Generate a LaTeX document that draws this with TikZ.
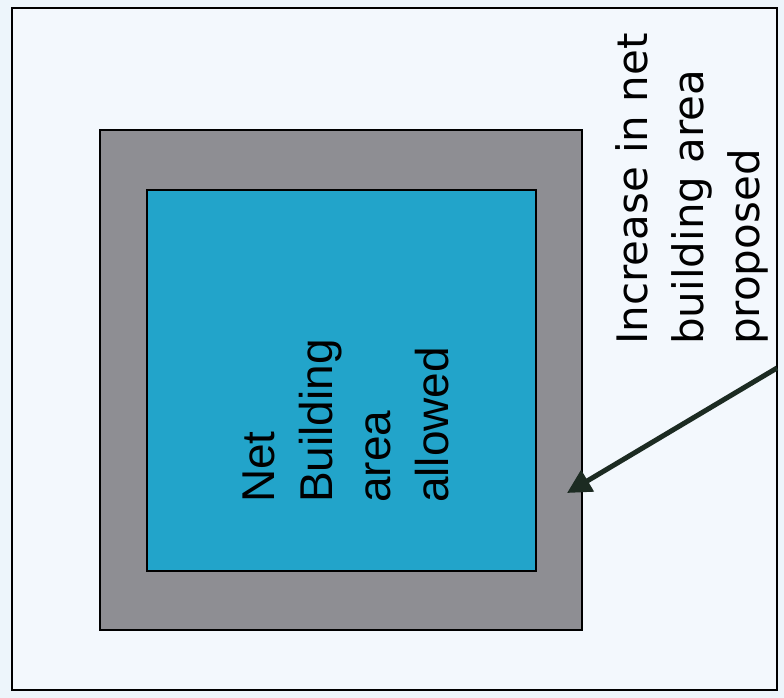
\documentclass[tikz,border=0pt]{standalone}
\usepackage{fontspec}
\setmainfont{Liberation Sans}
\newfontfamily\labelfont{DejaVu Sans}
\usetikzlibrary{arrows.meta}
\definecolor{paper}{HTML}{EDF5FB}
\definecolor{inner}{HTML}{F3F8FD}
\definecolor{bandgray}{HTML}{8E8E93}
\definecolor{netblue}{HTML}{22A4CA}
\definecolor{arrowdark}{HTML}{1C2B22}
\begin{document}
\begin{tikzpicture}[x=1pt,y=-1pt,
  framebox/.style={draw=black, line width=2pt, fill=inner, inner sep=0pt},
  bandbox/.style={draw=black, line width=2pt, fill=bandgray, inner sep=0pt},
  netbox/.style={draw=black, line width=2pt, fill=netblue, inner sep=0pt},
  vtext/.style={rotate=90, anchor=north west, align=left, inner sep=0pt, text=black},
  pointer/.style={draw=arrowdark, line width=5pt, -{Triangle[length=24pt,width=24pt]}}]
\fill[paper] (0,0) rectangle (784,698);
\useasboundingbox (0,0) rectangle (784,698);
\node[framebox, minimum width=765pt, minimum height=682pt] (frame) at (394.5,349) {};
\node[bandbox, minimum width=482pt, minimum height=500pt] (ext) at (341,380) {};
\node[netbox, minimum width=389pt, minimum height=381pt] (net) at (341.5,380.5) {};
\node[vtext, font=\fontsize{46}{58}\selectfont] (nettext) at (243,503) {Net\\Building\\area\\allowed};
\node[vtext, font=\labelfont\fontsize{42}{56}\selectfont] (inctext) at (615,345) {Increase in net\\building area\\proposed};
\coordinate (arrowstart) at (777,368);
\coordinate (arrowtip) at (567,493);
\draw[pointer] (arrowstart) -- (arrowtip);
\end{tikzpicture}
\end{document}
